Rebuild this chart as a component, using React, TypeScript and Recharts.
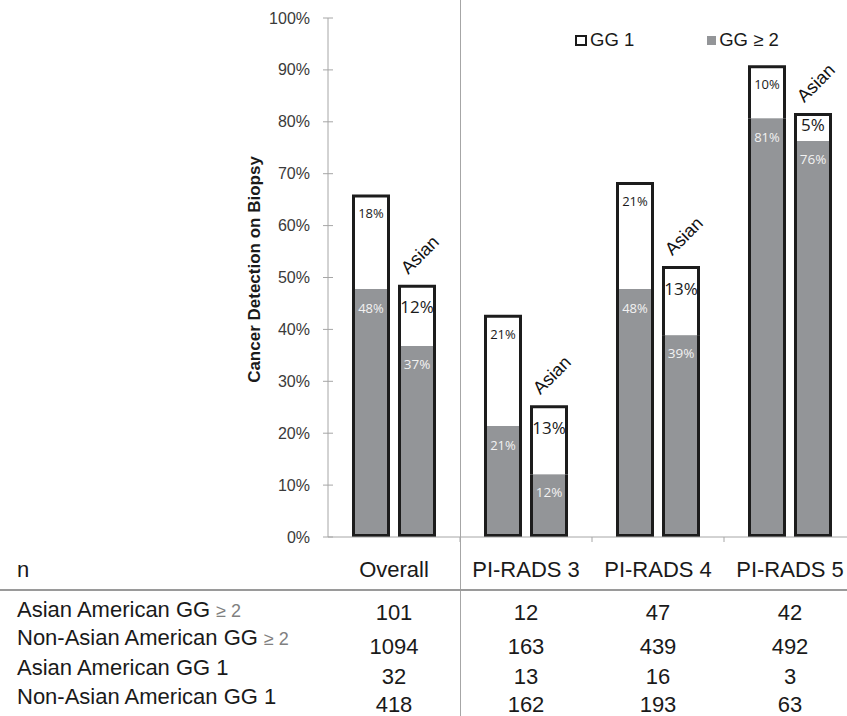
import React from 'react';
import { BarChart, Bar, XAxis, YAxis, LabelList, Label } from 'recharts';

const categories = ['Overall', 'PI-RADS 3', 'PI-RADS 4', 'PI-RADS 5'];
// % of biopsies
const nonAsianHigh = [47.8, 21.4, 47.8, 80.7];
const nonAsianLow = [18.2, 21.4, 20.6, 10.2];
const asianHigh = [36.8, 12.1, 38.9, 76.3];
const asianLow = [11.8, 13.3, 13.3, 5.4];
const yTicks = [0, 10, 20, 30, 40, 50, 60, 70, 80, 90, 100];

// n table under the chart
const rowLabels = [
  { main: 'Asian American GG', suffix: '≥ 2' },
  { main: 'Non-Asian American GG', suffix: '≥ 2' },
  { main: 'Asian American GG 1', suffix: '' },
  { main: 'Non-Asian American GG 1', suffix: '' },
];
const asianHighN = [101, 12, 47, 42];
const nonAsianHighN = [1094, 163, 439, 492];
const asianLowN = [32, 13, 16, 3];
const nonAsianLowN = [418, 162, 193, 63];
const tableRows = [asianHighN, nonAsianHighN, asianLowN, nonAsianLowN];

const legendItems = [
  { name: 'GG 1', fill: '#ffffff', stroke: '#1a1a1a' },
  { name: 'GG ≥ 2', fill: '#939598', stroke: 'none' },
];

const data = categories.map((name, i) => ({
  name,
  naHigh: nonAsianHigh[i],
  naLow: nonAsianLow[i],
  aHigh: asianHigh[i],
  aLow: asianLow[i],
}));

const GRAY = '#939598';
const EDGE = '#1c1c1c';
const FONT = '"Liberation Sans", Arial, sans-serif';

const PLOT_LEFT = 328;
const PLOT_WIDTH = 528;
const band = PLOT_WIDTH / categories.length;

const BottomSeg = (props: any) => {
  const { x, y, width, height } = props;
  if (!height) return null;
  return (
    <g>
      <rect x={x} y={y} width={width} height={height} fill={GRAY} />
      <path
        d={`M${x + 1.5},${y} V${y + height - 1.5} H${x + width - 1.5} V${y}`}
        stroke={EDGE}
        strokeWidth={3}
        fill="none"
      />
    </g>
  );
};

const TopSeg = (props: any) => {
  const { x, y, width, height } = props;
  if (!height) return null;
  return (
    <g>
      <rect x={x} y={y} width={width} height={height} fill="#fff" />
      <path
        d={`M${x + 1.5},${y + height} V${y + 1.5} H${x + width - 1.5} V${y + height}`}
        stroke={EDGE}
        strokeWidth={3}
        fill="none"
      />
    </g>
  );
};

const segLabel = (color: string, size: number, drop: number) => (props: any) => {
  const { x, y, width, height, value } = props;
  const dy = Math.min(drop, height / 2 - 2);
  return (
    <text
      x={x + width / 2}
      y={y + dy}
      textAnchor="middle"
      dominantBaseline="central"
      fill={color}
      fontSize={size}
      fontFamily='"Open Sans", "Liberation Sans", sans-serif'
    >
      {`${Math.round(Number(value))}%`}
    </text>
  );
};

const AsianTag = (props: any) => {
  const { x, y, width } = props;
  const cx = x + width / 2 + 3;
  const cy = y - 30;
  return (
    <text
      x={cx}
      y={cy}
      textAnchor="middle"
      dominantBaseline="central"
      fontSize={18}
      fontFamily={FONT}
      fill="#111"
      transform={`rotate(-45, ${cx}, ${cy})`}
    >
      Asian
    </text>
  );
};

const BoundaryTick = (props: any) => {
  const { y, payload } = props;
  const bx = payload.coordinate + (payload.offset ?? 0);
  return <line x1={bx} x2={bx} y1={y} y2={y + 5} stroke="#a6a6a6" />;
};

const CrossTick = (props: any) => {
  const { x, y, payload } = props;
  // x is where the label ends; axis sits tickSize + tickMargin to the right
  const ax = x + 18;
  return (
    <g>
      <line x1={ax - 5} x2={ax + 5} y1={y} y2={y} stroke="#a6a6a6" />
      <text
        x={x}
        y={y}
        textAnchor="end"
        dominantBaseline="central"
        fontSize={16}
        fontFamily={FONT}
        fill="#3a3a3a"
      >
        {`${payload.value}%`}
      </text>
    </g>
  );
};

const App: React.FC = () => {
  const rowY = [610, 638, 668, 697];
  const numY = [613, 647, 677, 705];
  return (
    <div
      style={{
        position: 'absolute',
        left: 0,
        top: 0,
        width: 847,
        height: 716,
        overflow: 'hidden',
        background: '#fff',
        fontFamily: FONT,
        color: '#1a1a1a',
      }}
    >
      <BarChart
        width={PLOT_LEFT + PLOT_WIDTH}
        height={18 + 519 + 14}
        data={data}
        margin={{ top: 18, right: 0, left: 0, bottom: 0 }}
        barSize={38}
        barGap={8}
      >
        <XAxis
          dataKey="name"
          height={14}
          axisLine={{ stroke: '#a6a6a6' }}
          tickLine={false}
          tickSize={0}
          tickMargin={0}
          tick={<BoundaryTick />}
          interval={0}
        />
        <YAxis
          width={PLOT_LEFT}
          domain={[0, 100]}
          ticks={yTicks}
          interval={0}
          axisLine={{ stroke: '#a6a6a6' }}
          tickLine={false}
          tickSize={6}
          tickMargin={12}
          tick={<CrossTick />}
        >
          <Label
            content={(p: any) => {
              const vb = p.viewBox;
              const lx = vb.x + 254;
              const ly = vb.y + vb.height / 2 - 8;
              return (
                <text
                  x={lx}
                  y={ly}
                  textAnchor="middle"
                  dominantBaseline="central"
                  fontSize={17}
                  fontWeight="bold"
                  fontFamily={FONT}
                  fill="#1a1a1a"
                  transform={`rotate(-90, ${lx}, ${ly})`}
                >
                  Cancer Detection on Biopsy
                </text>
              );
            }}
          />
        </YAxis>
        <Bar dataKey="naHigh" stackId="na" shape={<BottomSeg />} isAnimationActive={false}>
          <LabelList dataKey="naHigh" content={segLabel('#f2f2f2', 13, 19)} />
        </Bar>
        <Bar dataKey="naLow" stackId="na" shape={<TopSeg />} isAnimationActive={false}>
          <LabelList dataKey="naLow" content={segLabel('#1a1a1a', 13, 19)} />
        </Bar>
        <Bar dataKey="aHigh" stackId="a" shape={<BottomSeg />} isAnimationActive={false}>
          <LabelList dataKey="aHigh" content={segLabel('#f2f2f2', 13.5, 18)} />
        </Bar>
        <Bar dataKey="aLow" stackId="a" shape={<TopSeg />} isAnimationActive={false}>
          <LabelList dataKey="aLow" content={segLabel('#1a1a1a', 17, 22)} />
          <LabelList dataKey="aLow" content={<AsianTag />} />
        </Bar>
      </BarChart>

      {/* legend */}
      <div style={{ position: 'absolute', top: 29, left: 575, display: 'flex', fontSize: 18.5 }}>
        {legendItems.map((it, i) => (
          <div
            key={it.name}
            style={{ display: 'flex', alignItems: 'center', marginRight: i === 0 ? 73 : 0, height: 22 }}
          >
            <span
              style={{
                display: 'inline-block',
                width: i === 0 ? 8 : 9,
                height: i === 0 ? 7 : 9,
                background: it.fill,
                border: it.stroke === 'none' ? 'none' : `2.5px solid ${it.stroke}`,
                marginRight: 3,
              }}
            />
            <span>{it.name}</span>
          </div>
        ))}
      </div>

      {/* divider and table rule */}
      <div style={{ position: 'absolute', left: 460, top: 0, width: 1, height: 716, background: '#a6a6a6' }} />
      <div style={{ position: 'absolute', left: 0, top: 589, width: 847, height: 2, background: '#9a9a9a' }} />

      {/* header row */}
      <div style={{ position: 'absolute', left: 17, top: 570, transform: 'translateY(-50%)', fontSize: 22 }}>n</div>
      {categories.map((c, i) => (
        <div
          key={c}
          style={{
            position: 'absolute',
            left: PLOT_LEFT + band * (i + 0.5),
            top: 570,
            transform: 'translate(-50%, -50%)',
            fontSize: 22,
            whiteSpace: 'nowrap',
          }}
        >
          {c}
        </div>
      ))}

      {/* table rows */}
      {rowLabels.map((r, ri) => (
        <div
          key={ri}
          style={{
            position: 'absolute',
            left: 17,
            top: rowY[ri],
            transform: 'translateY(-50%)',
            fontSize: 22,
            whiteSpace: 'nowrap',
          }}
        >
          {r.main}
          {r.suffix && <span style={{ color: '#808080', fontSize: 18, marginLeft: 6 }}>{r.suffix}</span>}
        </div>
      ))}
      {tableRows.map((vals, ri) =>
        vals.map((v, ci) => (
          <div
            key={`${ri}-${ci}`}
            style={{
              position: 'absolute',
              left: PLOT_LEFT + band * (ci + 0.5),
              top: numY[ri],
              transform: 'translate(-50%, -50%)',
              fontSize: 22,
            }}
          >
            {v}
          </div>
        ))
      )}
    </div>
  );
};

export default App;
